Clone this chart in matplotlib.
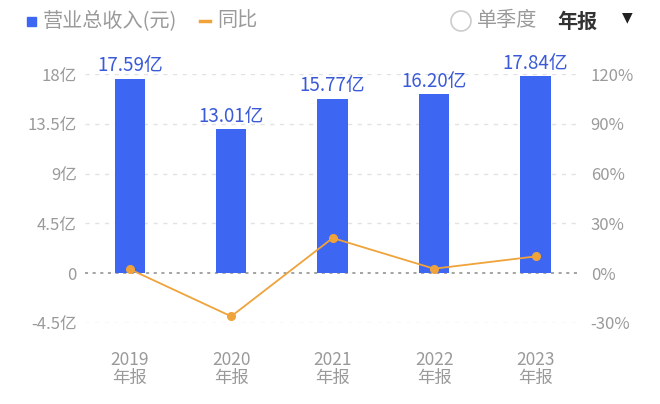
import numpy as np
import matplotlib.pyplot as plt
from matplotlib.patches import Ellipse

plt.rcParams['font.family'] = ['Noto Sans CJK SC', 'DejaVu Sans']

years = ['2019', '2020', '2021', '2022', '2023']
revenue = [17.59, 13.01, 15.77, 16.20, 17.84]   # 亿
yoy = [2.4, -26.0, 21.2, 2.7, 10.1]             # %
left_ticks = [-4.5, 0, 4.5, 9, 13.5, 18]
left_labels = ['-4.5亿', '0', '4.5亿', '9亿', '13.5亿', '18亿']
right_ticks = [-30, 0, 30, 60, 90, 120]
right_labels = ['-30%', '0%', '30%', '60%', '90%', '120%']

bar_color = '#3d66f2'
label_color = '#3a5ad8'
line_color = '#efa33a'
grey = '#9a9a9a'

fig = plt.figure(figsize=(6.6, 4.04), dpi=100)
ax = fig.add_axes([0.129, 0.2005, 0.747, 0.6163])
x = np.arange(len(years))

ax.bar(x, revenue, width=0.3, color=bar_color, zorder=2)
for xi, v in zip(x, revenue):
    ax.text(xi, v + 0.2, '%.2f亿' % v, ha='center', va='bottom',
            color=label_color, fontsize=13.5)

ax.set_xlim(-0.44, 4.42)
ax.set_ylim(-4.5, 18)
ax.set_yticks(left_ticks)
ax.set_yticklabels(left_labels)
ax.set_xticks(x)
ax.set_xticklabels([y + '\n年报' for y in years], linespacing=1.0)
for t in left_ticks:
    if t == 0:
        ax.axhline(t, color='#8a8a8a', lw=1.1, ls=(0, (2, 3)), zorder=1)
    else:
        ax.axhline(t, color='#e2e2e2', lw=1.0, ls=(0, (3, 4)), zorder=1)
ax.tick_params(axis='both', length=0, colors=grey, labelsize=12)
ax.tick_params(axis='x', labelsize=12.5, pad=20)
ax.tick_params(axis='y', pad=6)
for s in ax.spines.values():
    s.set_visible(False)

ax2 = ax.twinx()
ax2.plot(x, yoy, color=line_color, lw=1.3, marker='o', ms=5.5, zorder=3)
ax2.set_ylim(-30, 120)
ax2.set_yticks(right_ticks)
ax2.set_yticklabels(right_labels)
ax2.tick_params(axis='y', length=0, colors=grey, labelsize=12, pad=9)
for s in ax2.spines.values():
    s.set_visible(False)

# legend / header
hy = 1 - 21 / 404
fig.patches.append(plt.Rectangle((27 / 660, 1 - 26 / 404), 9 / 660, 9 / 404,
                                 transform=fig.transFigure, color=bar_color))
fig.text(43 / 660, hy, '营业总收入(元)', fontsize=14.5, color=grey, va='center')
fig.lines.append(plt.Line2D([200 / 660, 210 / 660], [hy, hy],
                            transform=fig.transFigure, color=line_color, lw=2.5))
fig.text(217 / 660, hy, '同比', fontsize=14.5, color=grey, va='center')
fig.patches.append(Ellipse((461 / 660, hy), 20 / 660, 20 / 404, transform=fig.transFigure,
                           fill=False, ec='#cccccc', lw=1.2))
fig.text(477 / 660, hy, '单季度', fontsize=14.5, color=grey, va='center')
fig.text(557 / 660, hy, '年报', fontsize=14.5, color='#333333', va='center',
         fontweight='bold')
fig.text(627 / 660, 1 - 17 / 404, '▼', fontsize=10, color='#222222', va='center',
         ha='center', family='DejaVu Sans')

fig.savefig('out.png', dpi=100, facecolor='white')
